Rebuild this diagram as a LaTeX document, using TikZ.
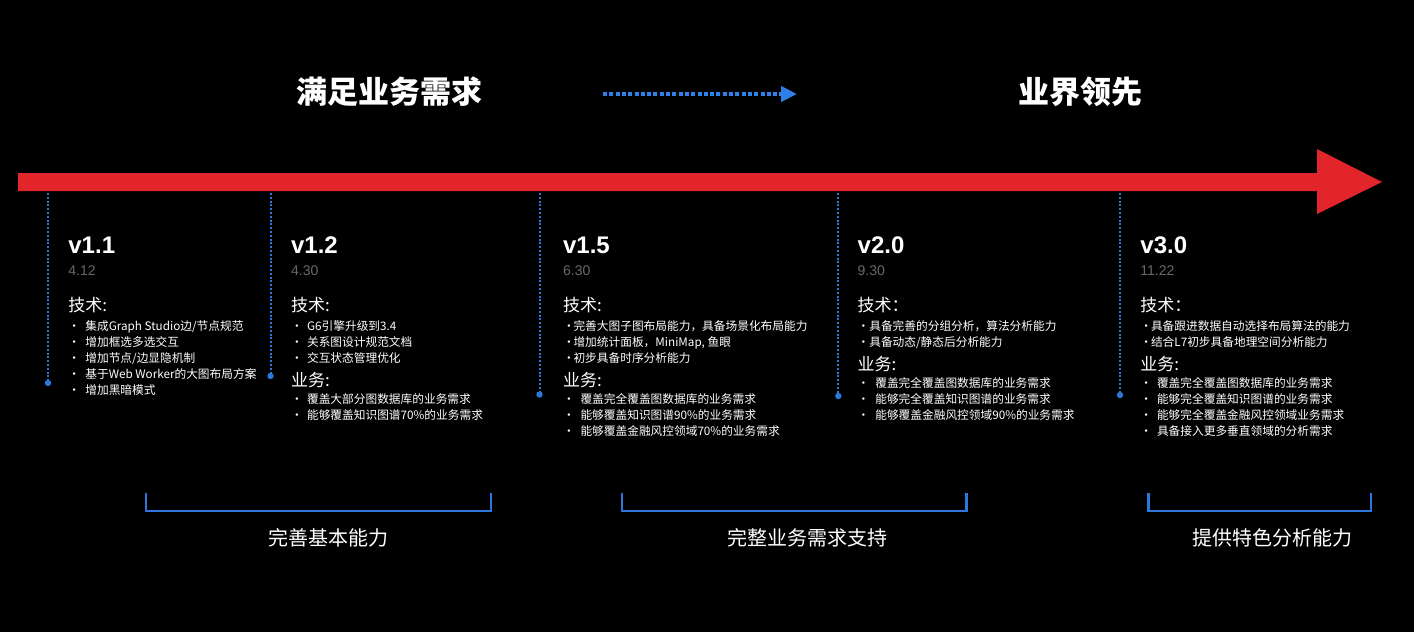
\documentclass[tikz,border=0pt]{standalone}
\usepackage{fontspec}
\setmainfont{Noto Sans CJK SC}
\newfontfamily\verfont{Liberation Sans}
\usetikzlibrary{arrows.meta}
\definecolor{redA}{RGB}{226,37,42}
\definecolor{blueA}{RGB}{45,118,220}
\definecolor{blueB}{RGB}{47,128,232}
\definecolor{dateA}{RGB}{105,105,105}
\newcommand\secthead[1]{{\fontsize{8.5pt}{8pt}\selectfont #1}}
\newcommand\itemdot[1]{\makebox[#1][l]{·}}
\tikzset{
  headline/.style={
    anchor=base west,
    inner sep=0pt,
    text=white,
    font=\fontsize{15.5pt}{16pt}\selectfont\bfseries
  },
  version/.style={anchor=base west, inner sep=0pt, text=white, font=\verfont\bfseries\fontsize{12pt}{12pt}\selectfont},
  date/.style={anchor=base west, inner sep=0pt, text=dateA, font=\verfont\fontsize{7pt}{7pt}\selectfont},
  body/.style={
    anchor=north west,
    inner sep=0pt,
    align=left,
    text=white,
    font={\fontsize{5.85pt}{8pt}\selectfont\lineskiplimit=-20pt}
  },
  drop/.style={draw=blueA, line width=1pt, dash pattern=on 1pt off 0.9pt},
  stop/.style={circle, fill=blueA, inner sep=0pt, minimum size=3.2pt},
  brace/.style={draw=blueA, line width=1.25pt},
  phase/.style={anchor=base, inner sep=0pt, text=white, font=\fontsize{10pt}{10pt}\selectfont},
}

\begin{document}
\begin{tikzpicture}[x=0.5pt,y=-0.5pt]

\fill[black] (0,0) rectangle (1414,632);

% goals
\node[headline] (meet) at (296,103) {满足业务需求};
\node[headline] (lead) at (1018,103) {业界领先};
\coordinate (go) at (603,94);
\coordinate (arrive) at (797,94);
\draw[blueB, line width=2pt, dash pattern=on 2pt off 1.15pt, -{Triangle[length=8pt,width=7.5pt]}] (go) -- (arrive);

% timeline
\fill[redA] (18,173) -- (1317,173) -- (1317,149) -- (1382,182) -- (1317,214) -- (1317,191) -- (18,191) -- cycle;

\draw[drop] (48,193) -- (48,383) node[stop] (s11) {};
\draw[drop] (270.5,193) -- (270.5,376) node[stop] (s12) {};
\draw[drop] (539.5,193) -- (539.5,394.5) node[stop] (s15) {};
\draw[drop] (838.3,193) -- (838.3,396) node[stop] (s20) {};
\draw[drop] (1120,193) -- (1120,395) node[stop] (s30) {};

% v1.1
\node[version] (v11) at (68,253) {v1.1};
\node[date] (d11) at (68,275) {4.12};
\node[body] (b11) at (68,297) {
  \secthead{技术:}\\[1.25pt]
  \itemdot{8.5pt}集成Graph Studio边/节点规范\\
  \itemdot{8.5pt}增加框选多选交互\\
  \itemdot{8.5pt}增加节点/边显隐机制\\
  \itemdot{8.5pt}基于Web Worker的大图布局方案\\
  \itemdot{8.5pt}增加黑暗模式
};

% v1.2
\node[version] (v12) at (290.7,253) {v1.2};
\node[date] (d12) at (290.7,275) {4.30};
\node[body] (b12) at (290.7,297) {
  \secthead{技术:}\\[1.25pt]
  \itemdot{8pt}G6引擎升级到3.4\\
  \itemdot{8pt}关系图设计规范文档\\
  \itemdot{8pt}交互状态管理优化\\[4.25pt]
  \secthead{业务:}\\[0.5pt]
  \itemdot{8pt}覆盖大部分图数据库的业务需求\\
  \itemdot{8pt}能够覆盖知识图谱70\%的业务需求
};

% v1.5
\node[version] (v15) at (562.7,253) {v1.5};
\node[date] (d15) at (562.7,275) {6.30};
\node[body] (b15) at (562.7,297) {
  \secthead{技术:}\\[1.25pt]
  \itemdot{5.2pt}完善大图子图布局能力，具备场景化布局能力\\
  \itemdot{5.2pt}增加统计面板，MiniMap, 鱼眼\\
  \itemdot{5.2pt}初步具备时序分析能力\\[4.25pt]
  \secthead{业务:}\\[0.5pt]
  \itemdot{8.7pt}覆盖完全覆盖图数据库的业务需求\\
  \itemdot{8.7pt}能够覆盖知识图谱90\%的业务需求\\
  \itemdot{8.7pt}能够覆盖金融风控领域70\%的业务需求
};

% v2.0
\node[version] (v20) at (857.3,253) {v2.0};
\node[date] (d20) at (857.3,275) {9.30};
\node[body] (b20) at (857.3,297) {
  \secthead{技术：}\\[1.25pt]
  \itemdot{5.8pt}具备完善的分组分析，算法分析能力\\
  \itemdot{5.8pt}具备动态/静态后分析能力\\[4.25pt]
  \secthead{业务:}\\[0.5pt]
  \itemdot{8.8pt}覆盖完全覆盖图数据库的业务需求\\
  \itemdot{8.8pt}能够完全覆盖知识图谱的业务需求\\
  \itemdot{8.8pt}能够覆盖金融风控领域90\%的业务需求
};

% v3.0
\node[version] (v30) at (1140,253) {v3.0};
\node[date] (d30) at (1140,275) {11.22};
\node[body] (b30) at (1140,297) {
  \secthead{技术：}\\[1.25pt]
  \itemdot{5.3pt}具备跟进数据自动选择布局算法的能力\\
  \itemdot{5.3pt}结合L7初步具备地理空间分析能力\\[4.25pt]
  \secthead{业务:}\\[0.5pt]
  \itemdot{8.3pt}覆盖完全覆盖图数据库的业务需求\\
  \itemdot{8.3pt}能够完全覆盖知识图谱的业务需求\\
  \itemdot{8.3pt}能够完全覆盖金融风控领域业务需求\\
  \itemdot{8.3pt}具备接入更多垂直领域的分析需求
};

% phases
\draw[brace] (146,493) -- (146,511) -- (491,511) -- (491,493);
\draw[brace] (622,493) -- (622,511) -- (966.5,511) -- (966.5,493);
\draw[brace] (1148.5,493) -- (1148.5,511) -- (1371,511) -- (1371,493);
\node[phase] (basic) at (328,545.5) {完善基本能力};
\node[phase] (full) at (807,545.5) {完整业务需求支持};
\node[phase] (special) at (1272,545.5) {提供特色分析能力};

\end{tikzpicture}
\end{document}
